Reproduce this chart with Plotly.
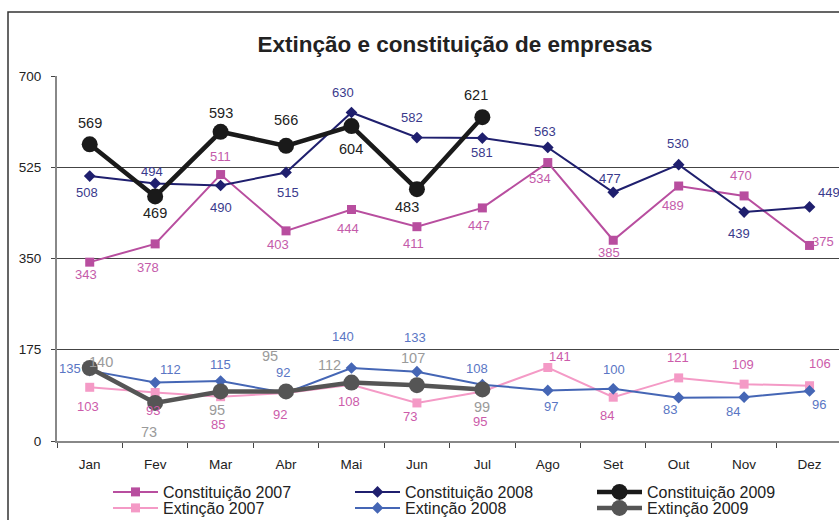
import plotly.graph_objects as go

months = ["Jan", "Fev", "Mar", "Abr", "Mai", "Jun", "Jul", "Ago", "Set", "Out", "Nov", "Dez"]

constituicao_2007 = [343, 378, 511, 403, 444, 411, 447, 534, 385, 489, 470, 375]
constituicao_2008 = [508, 494, 490, 515, 630, 582, 581, 563, 477, 530, 439, 449]
constituicao_2009 = [569, 469, 593, 566, 604, 483, 621]
extincao_2007 = [103, 93, 85, 92, 108, 73, 95, 141, 84, 121, 109, 106]
extincao_2008 = [135, 112, 115, 92, 140, 133, 108, 97, 100, 83, 84, 96]
extincao_2009 = [140, 73, 95, 95, 112, 107, 99]

y_ticks = [0, 175, 350, 525, 700]

# label offsets in pixels (dx right, dy up)
c07_dx = [-4, -7, 0, -8, -3, -3, -3, -8, -4, -6, -3, 13]
c07_dy = [-12, -24, 18, -14, -19, -17, -18, -16, -12, -19, 20, 4]
c08_dx = [-3, -3, 0, 2, -8, -5, 0, -3, -3, -1, -5, 19]
c08_dy = [-16, 12, -22, -20, 20, 20, -14, 16, 14, 21, -21, 14]
c09_dx = [0, 0, 0, 0, 0, -10, -6]
c09_dy = [21, -17, 19, 26, -23, -18, 22]
e07_dx = [-2, -2, -3, -6, -2, -7, -2, 12, -6, -1, -1, 10]
e07_dy = [-19, -18, -28, -21, -17, -14, -30, 11, -18, 20, 20, 22]
e08_dx = [-20, 15, 0, -3, -8, -2, -5, 3, 1, -9, -11, 9]
e08_dy = [2, 13, 17, 21, 32, 34, 16, -16, 19, -12, -14, -14]
e09_dx = [11, -6, -4, -16, -22, -4, 0]
e09_dy = [6, -29, -19, 35, 18, 27, -18]

FONT = "Arial, 'Liberation Sans', sans-serif"

series = [
    ("Constituição 2007", constituicao_2007, dict(color="#B84E9F", width=2),
     dict(symbol="square", size=9, color="#B84E9F"), "#C45BAA", 13, c07_dx, c07_dy, "legend"),
    ("Constituição 2008", constituicao_2008, dict(color="#1F1F6E", width=2),
     dict(symbol="diamond", size=9, color="#1F1F6E"), "#3A3A8C", 13, c08_dx, c08_dy, "legend"),
    ("Constituição 2009", constituicao_2009, dict(color="#1A1A1A", width=4.5),
     dict(symbol="circle", size=16, color="#1A1A1A"), "#222222", 14.5, c09_dx, c09_dy, "legend"),
    ("Extinção 2007", extincao_2007, dict(color="#F49AC6", width=2),
     dict(symbol="square", size=9, color="#F49AC6"), "#CC5BAA", 13, e07_dx, e07_dy, "legend2"),
    ("Extinção 2008", extincao_2008, dict(color="#4566B5", width=2),
     dict(symbol="diamond", size=9, color="#4566B5"), "#5A76C4", 13, e08_dx, e08_dy, "legend2"),
    ("Extinção 2009", extincao_2009, dict(color="#555555", width=4.5),
     dict(symbol="circle", size=16, color="#555555"), "#9A9A9A", 14.5, e09_dx, e09_dy, "legend2"),
]

fig = go.Figure()
annotations = []
for name, vals, line, marker, lab_col, lab_size, dxs, dys, leg in series:
    xs = months[:len(vals)]
    fig.add_trace(go.Scatter(x=xs, y=vals, name=name, mode="lines+markers",
                             line=line, marker=marker, legend=leg))
    for xv, yv, dx, dy in zip(xs, vals, dxs, dys):
        annotations.append(dict(x=xv, y=yv, text=str(yv), showarrow=False,
                                xshift=dx, yshift=dy, xanchor="center", yanchor="middle",
                                font=dict(color=lab_col, size=lab_size, family=FONT)))

L, T, W, H = 57, 76, 782, 365
BOTTOM = T + H

legend_common = dict(orientation="h", xanchor="left", yanchor="middle",
                     entrywidth=182, entrywidthmode="pixels", itemwidth=45,
                     font=dict(size=16, color="#222222", family=FONT),
                     traceorder="normal", bgcolor="rgba(0,0,0,0)", borderwidth=0)

fig.update_layout(
    template="none",
    width=839, height=520,
    margin=dict(l=L, r=839 - L - W, t=T, b=520 - BOTTOM, pad=0, autoexpand=False),
    paper_bgcolor="white", plot_bgcolor="white",
    font=dict(family=FONT, size=13, color="#222222"),
    title=dict(text="<b>Extinção e constituição de empresas</b>", x=455 / 839, xanchor="center",
               y=1 - 44 / 520, yanchor="middle", xref="container", yref="container",
               font=dict(size=22.5, color="#222222", family=FONT)),
    showlegend=True,
    legend=dict(legend_common, x=(108 - L) / W, y=(BOTTOM - 492) / H),
    legend2=dict(legend_common, x=(108 - L) / W, y=(BOTTOM - 508) / H),
    annotations=annotations,
    xaxis=dict(categoryorder="array", categoryarray=months, range=[-0.5, 11.45],
               showgrid=False, showline=True, linecolor="#888888", linewidth=1.5,
               ticks="outside", tickson="boundaries", ticklen=5, tickcolor="#444444",
               tickfont=dict(size=13.5, color="#222222"), zeroline=False, automargin=False,
               ticklabelstandoff=10),
    yaxis=dict(range=[0, 700], tickvals=y_ticks, showgrid=True, gridcolor="#444444",
               gridwidth=1, showline=True, linecolor="#888888", linewidth=2,
               ticks="outside", ticklen=4, tickcolor="#444444", zeroline=False,
               tickfont=dict(size=13.5, color="#222222"), ticklabelstandoff=7, automargin=False),
    shapes=[dict(type="rect", xref="paper", yref="paper",
                 x0=(8 - L) / W, x1=1.05, y0=-0.4, y1=(BOTTOM - 12) / H,
                 line=dict(color="#333333", width=1.5), fillcolor="rgba(0,0,0,0)", layer="below")],
)

fig.write_html("out.html", config={"displayModeBar": False},
               post_script="document.body.style.margin='0';document.body.style.padding='0';")
